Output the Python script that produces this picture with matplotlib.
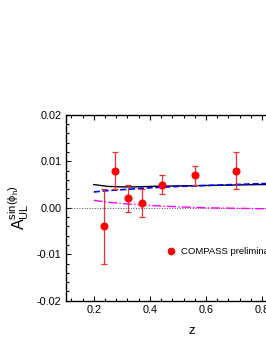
import numpy as np
import matplotlib as mpl
mpl.use('Agg')
import matplotlib.pyplot as plt
from matplotlib.ticker import MultipleLocator
from matplotlib.lines import Line2D

# COMPASS preliminary data
z_data = [0.237, 0.275, 0.323, 0.371, 0.445, 0.561, 0.706]
a_data = [-0.004, 0.008, 0.002, 0.001, 0.005, 0.007, 0.008]
a_err = [0.008, 0.004, 0.003, 0.003, 0.002, 0.002, 0.004]

# model curves
z_curve = [0.2, 0.25, 0.3, 0.35, 0.4, 0.5, 0.6, 0.7, 0.8, 0.9]
a_black = [0.0050, 0.0046, 0.0045, 0.0045, 0.0046, 0.0047, 0.0048, 0.0049, 0.0050, 0.0050]
a_blue = [0.0034, 0.0037, 0.0039, 0.0041, 0.0043, 0.0046, 0.0048, 0.0050, 0.0052, 0.0053]
a_magenta = [0.0016, 0.0012, 0.0009, 0.0007, 0.0005, 0.0002, 0.0000, -0.0001, -0.0002, -0.0003]

plt.rc('font', family=['Liberation Sans', 'DejaVu Sans'])

fig = plt.figure(figsize=(2.66, 3.44), dpi=100)
ax = fig.add_axes([0.247, 0.126, 0.949, 0.540])

ax.axhline(0.0, color='0.3', linestyle=':', linewidth=0.7)
ax.plot(z_curve, a_black, '-', color='k', linewidth=1.0)
ax.plot(z_curve, a_blue, '--', color='b', linewidth=1.2)
ax.plot(z_curve, a_magenta, '-.', color='magenta', linewidth=1.0)
ax.errorbar(z_data, a_data, yerr=a_err, fmt='o', color='red', ecolor='#f03030',
            markersize=4.8, elinewidth=0.9, capsize=2, capthick=0.9)

ax.set_xlim(0.1, 1.0)
ax.set_ylim(-0.02, 0.02)
ax.xaxis.set_major_locator(MultipleLocator(0.2))
ax.xaxis.set_minor_locator(MultipleLocator(0.04))
ax.yaxis.set_major_locator(MultipleLocator(0.01))
ax.yaxis.set_minor_locator(MultipleLocator(0.002))
ax.yaxis.set_major_formatter(mpl.ticker.FormatStrFormatter('%.2f'))
ax.xaxis.set_major_formatter(mpl.ticker.FormatStrFormatter('%.1f'))
ax.tick_params(which='both', direction='in', top=True, right=True, labelsize=7.8, width=0.8)
ax.tick_params(which='major', length=3.5, pad=3)
ax.tick_params(which='minor', length=2)
for s in ax.spines.values():
    s.set_linewidth(1.0)

ax.set_xlabel('z', fontsize=9.5, labelpad=7)
ax.set_ylabel(r'$\mathregular{A_{UL}^{sin(\phi_h)}}$', fontsize=11.5, labelpad=4)

handle = Line2D([], [], marker='o', color='red', linestyle='none', markersize=4.5)
ax.legend([handle], ['COMPASS preliminary'], loc='center left', frameon=False,
          bbox_to_anchor=(0.36, 0.262), fontsize=6.8, handletextpad=0.5, handlelength=1.2)

fig.savefig('out.png', dpi=100)
